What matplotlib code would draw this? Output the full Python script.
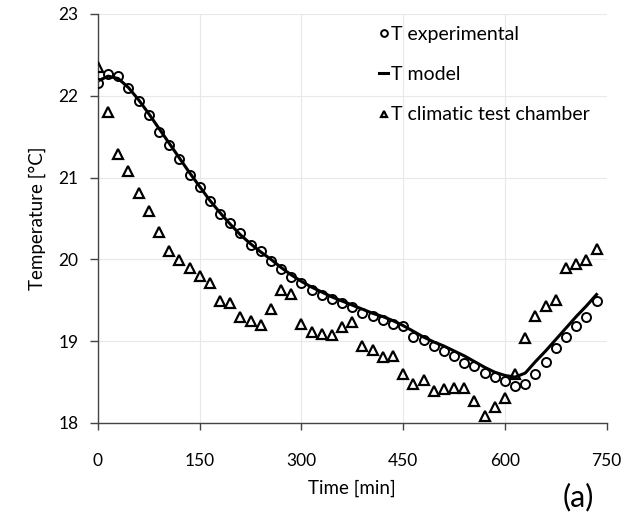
import numpy as np
import matplotlib
matplotlib.use("Agg")
import matplotlib.pyplot as plt

plt.rcParams['font.family'] = ['Lato', 'DejaVu Sans']

# time axis, one reading every 15 min
time_min = list(range(0, 750, 15))

t_experimental = [22.15, 22.27, 22.24, 22.09, 21.93, 21.77, 21.56, 21.40, 21.23, 21.03,
                  20.88, 20.71, 20.56, 20.44, 20.32, 20.18, 20.10, 19.98, 19.88, 19.78,
                  19.71, 19.62, 19.56, 19.51, 19.47, 19.42, 19.34, 19.31, 19.26, 19.21,
                  19.18, 19.05, 19.01, 18.94, 18.88, 18.82, 18.73, 18.69, 18.61, 18.56,
                  18.51, 18.45, 18.48, 18.60, 18.74, 18.92, 19.05, 19.18, 19.30, 19.49]

t_model = [22.18, 22.24, 22.21, 22.10, 21.95, 21.78, 21.60, 21.42, 21.24, 21.06,
           20.89, 20.72, 20.57, 20.43, 20.30, 20.19, 20.09, 20.00, 19.90, 19.81,
           19.73, 19.66, 19.60, 19.54, 19.49, 19.44, 19.39, 19.34, 19.30, 19.25,
           19.19, 19.12, 19.05, 18.99, 18.94, 18.88, 18.82, 18.75, 18.68, 18.62,
           18.58, 18.56, 18.61, 18.75, 18.88, 19.02, 19.16, 19.30, 19.43, 19.57]

t_chamber = [22.35, 21.80, 21.29, 21.08, 20.81, 20.59, 20.33, 20.10, 19.99, 19.90,
             19.80, 19.71, 19.49, 19.47, 19.30, 19.24, 19.20, 19.39, 19.63, 19.57,
             19.21, 19.11, 19.09, 19.07, 19.17, 19.23, 18.94, 18.89, 18.80, 18.82,
             18.60, 18.48, 18.52, 18.39, 18.41, 18.43, 18.43, 18.27, 18.08, 18.19,
             18.30, 18.60, 19.04, 19.31, 19.43, 19.50, 19.90, 19.94, 19.99, 20.13]

x_ticks = [0, 150, 300, 450, 600, 750]
y_ticks = [18, 19, 20, 21, 22, 23]

fig = plt.figure(figsize=(6.4, 5.17), dpi=100)
ax = fig.add_axes([0.153, 0.182, 0.795, 0.791])

ax.plot(time_min, t_experimental, 'o', color='black', markerfacecolor='none',
        markersize=6.5, markeredgewidth=1.4, label='T experimental', zorder=3)
ax.plot(time_min, t_model, '-', color='black', linewidth=2.2, label='T model', zorder=2)
ax.plot(time_min, t_chamber, '^', color='black', markerfacecolor='none',
        markersize=6.5, markeredgewidth=1.6, label='T climatic test chamber', zorder=3)

ax.set_xlim(0, 750)
ax.set_ylim(18, 23)
ax.set_xticks(x_ticks)
ax.set_yticks(y_ticks)
ax.grid(True, color='#e8e8e8', linewidth=0.8)
ax.set_axisbelow(True)

for side in ['top', 'right']:
    ax.spines[side].set_visible(False)
for side in ['left', 'bottom']:
    ax.spines[side].set_color('#444444')
    ax.spines[side].set_linewidth(1.0)

ax.tick_params(axis='x', direction='out', length=5, width=1, color='#444444',
               pad=17, labelsize=12.5)
ax.tick_params(axis='y', direction='out', length=6, width=1, color='#444444',
               pad=8, labelsize=12.5)

ax.set_xlabel('Time [min]', fontsize=13.5, labelpad=7)
ax.set_ylabel('Temperature [°C]', fontsize=13.5, labelpad=9)

ax.legend(loc='upper left', frameon=False, fontsize=14, handlelength=0.5,
          handletextpad=0.15, labelspacing=1.2, markerscale=0.75,
          borderaxespad=0, borderpad=0, bbox_to_anchor=(0.552, 0.971))

fig.text(0.903, 0.038, '(a)', fontsize=22, ha='center', va='center')

fig.savefig('out.png', dpi=100)
